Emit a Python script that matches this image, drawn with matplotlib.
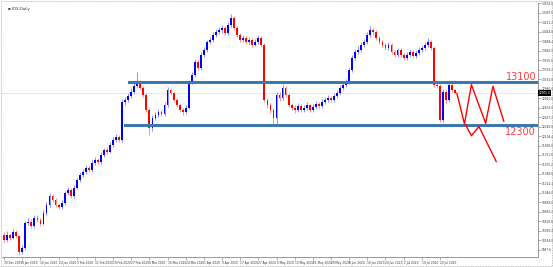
import matplotlib
matplotlib.use("Agg")
from matplotlib import pyplot as plt
from matplotlib.patches import Rectangle
import numpy as np

# daily candles, 30 Dec 2019 onward (one per trading day)
opens = [10265, 10170, 10265, 10210, 10320, 10245, 9950, 10020, 10490, 10505,
         10430, 10580, 10545, 10470, 10675, 10820, 10990, 10915, 10820, 10785,
         10860, 11045, 11100, 10990, 11140, 11285, 11380, 11435, 11510, 11475,
         11605, 11660, 11620, 11750, 11845, 11810, 11940, 12030, 12085, 12030,
         12740, 12775, 12850, 12925, 13035, 13075, 13000, 12870, 12590, 12255,
         12440, 12495, 12550, 12515, 12680, 12960, 12905, 12775, 12680, 12590,
         12550, 12625, 13110, 13240, 13480, 13370, 13610, 13705, 13855, 13890,
         13985, 14040, 14075, 14115, 14020, 14170, 14300, 14115, 13985, 13890,
         13930, 13855, 13890, 13800, 13855, 13930, 13800, 12775, 12680, 12590,
         12440, 12870, 12810, 13000, 12870, 12680, 12625, 12590, 12665, 12590,
         12625, 12680, 12590, 12645, 12700, 12665, 12740, 12775, 12810, 12775,
         12850, 12905, 13000, 13055, 13110, 13335, 13555, 13670, 13705, 13800,
         13855, 13985, 14075, 14040, 13930, 13855, 13800, 13740, 13800, 13670,
         13610, 13705, 13610, 13555, 13610, 13670, 13595, 13650, 13705, 13740,
         13800, 13855, 13740, 13055, 13035, 12405, 12925, 12775, 13055, 12960]
highs = [10320, 10330, 10300, 10380, 10360, 10270, 10080, 10530, 10580, 10560,
         10640, 10630, 10580, 10720, 10870, 11040, 11030, 10950, 10860, 10920,
         11090, 11160, 11130, 11190, 11330, 11430, 11490, 11560, 11560, 11650,
         11720, 11700, 11800, 11890, 11900, 11990, 12080, 12140, 12120, 12790,
         12830, 12900, 12990, 13100, 13300, 13150, 13040, 12900, 12620, 12490,
         12550, 12610, 12590, 12730, 13010, 13000, 12930, 12810, 12710, 12630,
         12680, 13150, 13300, 13530, 13520, 13660, 13760, 13900, 13950, 14040,
         14100, 14140, 14170, 14150, 14230, 14380, 14330, 14150, 14020, 13990,
         13970, 13950, 13930, 13910, 13990, 13960, 13830, 12820, 12720, 12620,
         12920, 12930, 13080, 13030, 12900, 12720, 12680, 12720, 12700, 12680,
         12730, 12710, 12700, 12750, 12740, 12790, 12830, 12870, 12850, 12900,
         12960, 13050, 13110, 13170, 13390, 13610, 13720, 13770, 13850, 13910,
         14040, 14160, 14110, 14070, 13960, 13890, 13830, 13850, 13830, 13700,
         13750, 13740, 13650, 13660, 13720, 13700, 13700, 13760, 13790, 13850,
         13920, 13890, 13770, 13120, 13070, 12980, 12960, 13110, 13090, 12980]
lows = [10120, 10140, 10170, 10180, 10200, 9900, 9905, 9990, 10440, 10390,
        10400, 10500, 10430, 10450, 10640, 10790, 10870, 10780, 10740, 10750,
        10830, 11010, 10950, 10960, 11110, 11250, 11340, 11400, 11430, 11440,
        11570, 11580, 11590, 11720, 11770, 11780, 11900, 12000, 11990, 12000,
        12690, 12730, 12810, 12890, 13000, 12960, 12830, 12550, 12125, 12200,
        12400, 12460, 12470, 12480, 12650, 12860, 12730, 12640, 12550, 12500,
        12510, 12600, 13080, 13210, 13330, 13340, 13570, 13670, 13810, 13850,
        13950, 14000, 14030, 13980, 13990, 14140, 14080, 13940, 13850, 13850,
        13810, 13820, 13760, 13770, 13820, 13760, 12730, 12630, 12540, 12290,
        12290, 12760, 12780, 12830, 12640, 12580, 12540, 12560, 12550, 12560,
        12590, 12550, 12560, 12610, 12620, 12630, 12700, 12740, 12730, 12740,
        12810, 12870, 12960, 13020, 13080, 13300, 13520, 13630, 13670, 13760,
        13820, 13950, 13990, 13890, 13810, 13760, 13700, 13700, 13630, 13570,
        13580, 13570, 13520, 13520, 13580, 13560, 13560, 13620, 13670, 13700,
        13760, 13700, 13010, 12990, 12365, 12370, 12720, 12740, 12920, 12880]
closes = [10170, 10265, 10210, 10320, 10245, 9950, 10020, 10490, 10505, 10430,
          10580, 10545, 10470, 10675, 10820, 10990, 10915, 10820, 10785, 10860,
          11045, 11100, 10990, 11140, 11285, 11380, 11435, 11510, 11475, 11605,
          11660, 11620, 11750, 11845, 11810, 11940, 12030, 12085, 12030, 12740,
          12775, 12850, 12925, 13035, 13075, 13000, 12870, 12590, 12255, 12440,
          12495, 12550, 12515, 12680, 12960, 12905, 12775, 12680, 12590, 12550,
          12625, 13110, 13240, 13480, 13370, 13610, 13705, 13855, 13890, 13985,
          14040, 14075, 14115, 14020, 14170, 14300, 14115, 13985, 13890, 13930,
          13855, 13890, 13800, 13855, 13930, 13800, 12775, 12680, 12590, 12440,
          12870, 12810, 13000, 12870, 12680, 12625, 12590, 12665, 12590, 12625,
          12680, 12590, 12645, 12700, 12665, 12740, 12775, 12810, 12775, 12850,
          12905, 13000, 13055, 13110, 13335, 13555, 13670, 13705, 13800, 13855,
          13985, 14075, 14040, 13930, 13855, 13800, 13740, 13800, 13670, 13610,
          13705, 13610, 13555, 13610, 13670, 13595, 13650, 13705, 13740, 13800,
          13855, 13740, 13055, 13035, 12405, 12925, 12775, 13055, 12960, 12905]

date_labels = ["30 Dec 2019", "8 Jan 2020", "16 Jan 2020", "24 Jan 2020", "3 Feb 2020",
               "11 Feb 2020", "19 Feb 2020", "27 Feb 2020", "6 Mar 2020", "16 Mar 2020",
               "24 Mar 2020", "1 Apr 2020", "9 Apr 2020", "17 Apr 2020", "27 Apr 2020",
               "5 May 2020", "13 May 2020", "21 May 2020", "29 May 2020", "8 Jun 2020",
               "16 Jun 2020", "24 Jun 2020", "2 Jul 2020", "10 Jul 2020", "20 Jul 2020"]

# support / resistance zones
resistance = 13100
support = 12300
# projected path (bar index, price)
path1_x = [149.6, 152.1, 154.4, 159.1, 161.5, 165.1]
path1_y = [12900, 12330, 13060, 12340, 13030, 12380]
path2_x = [152.5, 154.4, 156.9, 162.6]
path2_y = [12310, 12110, 12280, 11630]

fig = plt.figure(figsize=(5.53, 2.67), dpi=100)
ax = fig.add_axes([2 / 553, 10 / 267, 536 / 553, 254 / 267])

blue = "#0000ff"
red = "#ff0000"
for i in range(len(closes)):
    col = blue if closes[i] >= opens[i] else red
    ax.vlines(i, lows[i], highs[i], color=col, lw=0.5, alpha=0.6, zorder=2)
    lo = min(opens[i], closes[i])
    h = abs(closes[i] - opens[i])
    ax.add_patch(Rectangle((i - 0.3, lo), 0.6, max(h, 8), color=col, lw=0, zorder=3))

band = "#3b77b1"
ax.add_patch(Rectangle((40.9, resistance - 33), 200, 66, color=band, lw=0, zorder=4))
ax.add_patch(Rectangle((39.5, support - 33), 200, 66, color=band, lw=0, zorder=4))

last = closes[-1]
ax.axhline(last, color="#c8c8c8", lw=0.6, ls=(0, (1, 1)), zorder=1)

ax.plot(path1_x, path1_y, color=red, lw=1.0, zorder=5)
ax.plot(path2_x, path2_y, color=red, lw=1.0, zorder=5)

ax.text(175.8, 13205, "13100", color="#ff3b3b", fontsize=7, ha="right", va="center")
ax.text(175.8, 12180, "12300", color="#ff3b3b", fontsize=7, ha="right", va="center")

ax.set_xlim(-0.7, 176.4)
ax.set_ylim(9854, 14579)

ax.set_xticks(range(0, 6 * len(date_labels), 6))
ax.set_xticklabels(date_labels, fontsize=2.1, color="#333333", ha="left")
yt = np.arange(14574, 9854, -176.4)
ax.set_yticks(yt)
ax.set_yticklabels(["%.1f" % v for v in yt], fontsize=2.1, color="#333333")
ax.yaxis.tick_right()
ax.tick_params(axis="x", length=2, width=0.4, pad=1, colors="#777777", labelcolor="#333333")
ax.tick_params(axis="y", length=2, width=0.4, pad=0.8, colors="#777777", labelcolor="#333333")

for s in ["top", "left"]:
    ax.spines[s].set_visible(False)
for s in ["right", "bottom"]:
    ax.spines[s].set_color("#888888")
    ax.spines[s].set_linewidth(0.6)

ax.text(176.6, last, "%.1f" % last, fontsize=2.1, color="white", va="center", ha="left",
        bbox=dict(boxstyle="square,pad=0.2", fc="black", ec="none"), zorder=6, clip_on=False)
ax.text(0.012, 0.985, "\u25aa IDX,Daily", transform=ax.transAxes, fontsize=2.8,
        color="#333333", va="top", ha="left")

fig.patches.append(Rectangle((0.002, 0.004), 0.996, 0.992, transform=fig.transFigure,
                             fill=False, ec="#aaaaaa", lw=0.6, ls=(0, (1, 1))))

fig.savefig("out.png", dpi=100)
